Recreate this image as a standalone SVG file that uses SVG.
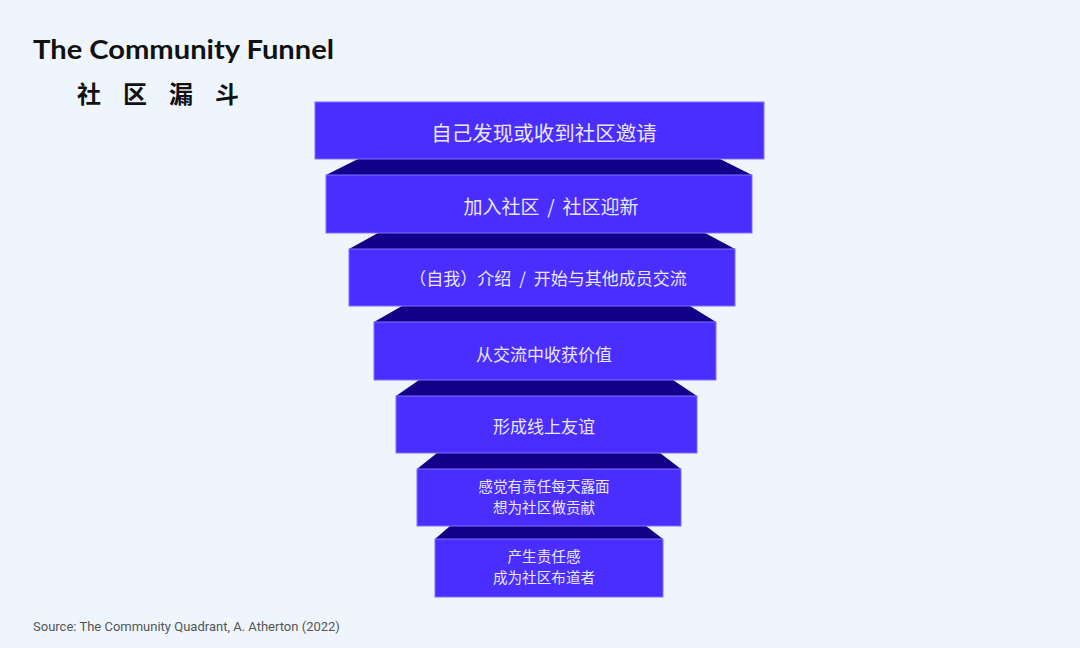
<svg xmlns="http://www.w3.org/2000/svg" width="1080" height="648" viewBox="0 0 1080 648">
<style>
.box{fill:#4a2eff;stroke:#7f70ff;stroke-width:1}
.side{fill:#140088}
.t{font-family:"Noto Sans CJK SC","Noto Sans",sans-serif;fill:#e9e6ff;text-anchor:middle}
.title{font-family:"Lato","Noto Sans",sans-serif;font-weight:bold;fill:#111}
.cn{font-family:"Noto Sans CJK SC",sans-serif;font-weight:bold;fill:#111}
.src{font-family:"Roboto","Liberation Sans",sans-serif;fill:#555;font-size:13px}
</style>
<rect width="1080" height="648" fill="#eef5fc"/>
<text class="title" x="33" y="59" font-size="26" textLength="301" lengthAdjust="spacingAndGlyphs">The Community Funnel</text>
<text class="cn" x="77" y="103" font-size="24" letter-spacing="22">社区漏斗</text>
<g id="connectors">
<polygon class="side" points="358,159 720,159 752,175 326,175"/>
<polygon class="side" points="378,233 705,233 735,249 349,249"/>
<polygon class="side" points="402,306 690,306 716,322 374,322"/>
<polygon class="side" points="419,380 673,380 697,396 396,396"/>
<polygon class="side" points="437,453 660,453 681,469 417,469"/>
<polygon class="side" points="450,526 646,526 663,539 435,539"/>
</g>
<g id="n1"><rect class="box" x="315" y="102" width="449" height="57"/><text class="t" x="544" y="141" font-size="20.5">自己发现或收到社区邀请</text></g>
<g id="n2"><rect class="box" x="326" y="175" width="426" height="58"/><text class="t" x="551" y="214" font-size="19" word-spacing="3.5">加入社区 / 社区迎新</text></g>
<g id="n3"><rect class="box" x="349" y="249" width="386" height="57"/><text class="t" x="548" y="285" font-size="17" word-spacing="4">（自我）介绍 / 开始与其他成员交流</text></g>
<g id="n4"><rect class="box" x="374" y="322" width="342" height="58"/><text class="t" x="544" y="361" font-size="17">从交流中收获价值</text></g>
<g id="n5"><rect class="box" x="396" y="396" width="301" height="57"/><text class="t" x="544" y="433" font-size="17">形成线上友谊</text></g>
<g id="n6"><rect class="box" x="417" y="469" width="264" height="57"/><text class="t" x="544" y="492" font-size="14.6">感觉有责任每天露面</text><text class="t" x="544" y="513" font-size="14.6">想为社区做贡献</text></g>
<g id="n7"><rect class="box" x="435" y="539" width="228" height="58"/><text class="t" x="544" y="562" font-size="14.6">产生责任感</text><text class="t" x="544" y="583" font-size="14.6">成为社区布道者</text></g>
<text class="src" x="33" y="631">Source: The Community Quadrant, A. Atherton (2022)</text>
</svg>
